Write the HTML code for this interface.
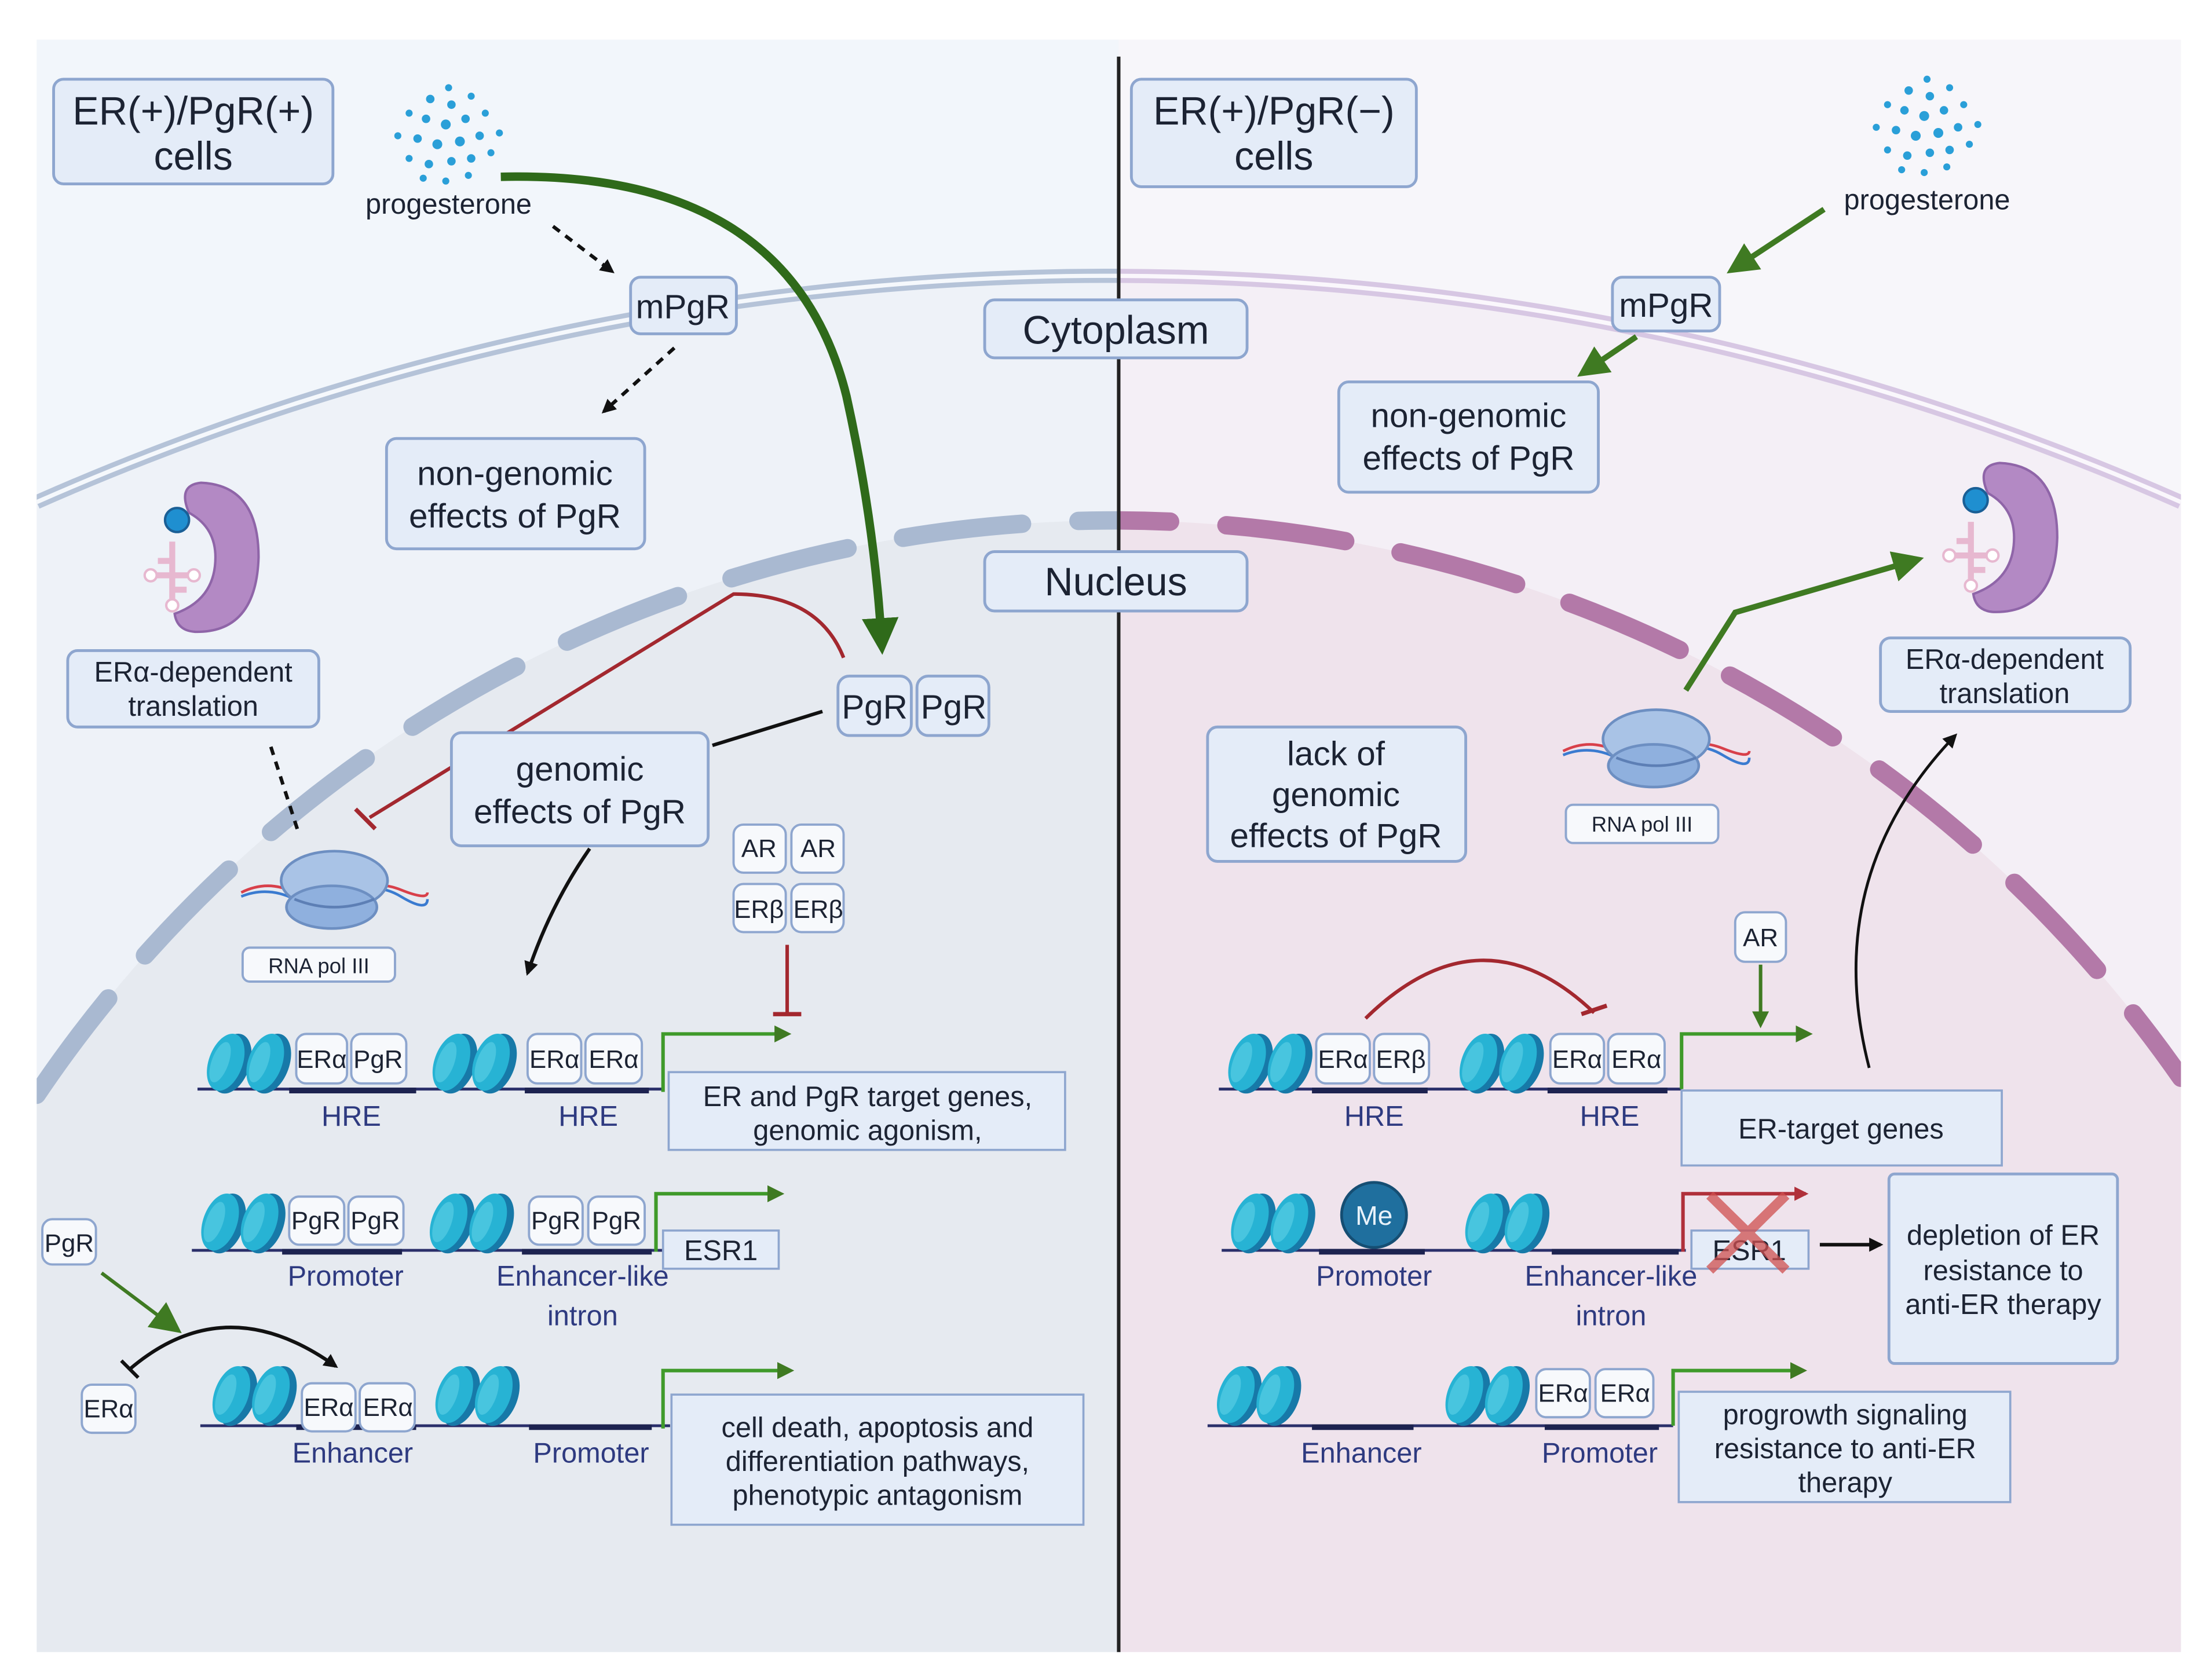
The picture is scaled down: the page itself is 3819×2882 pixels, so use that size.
<!DOCTYPE html>
<html><head><meta charset="utf-8">
<style>
html,body{margin:0;padding:0;background:#fff;width:3819px;height:2882px;overflow:hidden;position:relative;}
svg{display:block;position:absolute;left:0;top:0;}
text{font-family:"Liberation Sans",sans-serif;fill:#1c2333;}
.bx{fill:#e4ecf8;stroke:#8ea6cf;stroke-width:2;}
.gb{fill:#f7f9fc;stroke:#8ea6cf;stroke-width:1.6;}
.lb{fill:#2e3a80;}
</style></head><body>
<svg width="3819" height="2882" viewBox="0 0 1568 1180" preserveAspectRatio="none" xmlns="http://www.w3.org/2000/svg">
<defs>
<clipPath id="L"><rect x="26" y="28" width="767" height="1140"/></clipPath>
<clipPath id="R"><rect x="793" y="28" width="753" height="1140"/></clipPath>
<symbol id="nuc" viewBox="0 0 70 50" overflow="visible">
 <g>
  <ellipse cx="22" cy="25" rx="13" ry="22" fill="#1779a8" transform="rotate(20 22 25)"/>
  <ellipse cx="18" cy="24" rx="12" ry="21" fill="#27b3d4" transform="rotate(20 18 24)"/>
  <ellipse cx="14" cy="24" rx="6" ry="15" fill="#5fd0e6" transform="rotate(20 14 24)" opacity="0.6"/>
  <ellipse cx="50" cy="25" rx="13" ry="22" fill="#1779a8" transform="rotate(20 50 25)"/>
  <ellipse cx="46" cy="24" rx="12" ry="21" fill="#27b3d4" transform="rotate(20 46 24)"/>
  <ellipse cx="42" cy="24" rx="6" ry="15" fill="#5fd0e6" transform="rotate(20 42 24)" opacity="0.6"/>
 </g>
</symbol>
<symbol id="pol" viewBox="0 0 140 70" overflow="visible">
 <path d="M0 35 Q20 25 40 35 T80 35 T120 33 T140 35" stroke="#d8404a" stroke-width="2" fill="none"/>
 <path d="M0 38 Q20 30 40 40 T80 38 T120 38 T140 40" stroke="#3a7bd0" stroke-width="2" fill="none"/>
 <ellipse cx="70" cy="26" rx="40" ry="22" fill="#a9c3e6" stroke="#6d8fc2" stroke-width="2"/>
 <ellipse cx="68" cy="46" rx="34" ry="16" fill="#8fb0de" stroke="#6d8fc2" stroke-width="2"/>
 <path d="M40 40 Q70 52 100 40" stroke="#5d7fb5" stroke-width="2" fill="none"/>
</symbol>
<symbol id="ribo" viewBox="0 0 100 130" overflow="visible">
 <path d="M50 3 Q98 5 98 65 Q96 128 45 127 Q30 126 28 112 Q62 100 62 65 Q62 40 40 28 Q30 5 50 3Z" fill="#b389c4" stroke="#8f65a8" stroke-width="2"/>
 <circle cx="30" cy="34" r="10" fill="#1f8fd0" stroke="#1a5f96" stroke-width="2"/>
 <path d="M26 52 V105 M8 80 H44 M14 68 H26 M26 92 H38" stroke="#e7b8d0" stroke-width="5" fill="none"/>
 <circle cx="8" cy="80" r="5" fill="#fff" stroke="#e7b8d0" stroke-width="2"/>
 <circle cx="44" cy="80" r="5" fill="#fff" stroke="#e7b8d0" stroke-width="2"/>
 <circle cx="26" cy="105" r="5" fill="#fff" stroke="#e7b8d0" stroke-width="2"/>
</symbol>
<marker id="ab" markerWidth="10" markerHeight="10" refX="8" refY="5" orient="auto" markerUnits="userSpaceOnUse" viewBox="0 0 10 10"><path d="M0 0 L10 5 L0 10Z" fill="#111"/></marker>
<marker id="ag" markerWidth="12" markerHeight="12" refX="9" refY="6" orient="auto" markerUnits="userSpaceOnUse" viewBox="0 0 12 12"><path d="M0 0 L12 6 L0 12Z" fill="#3f7a22"/></marker>
<marker id="agb" markerWidth="26" markerHeight="26" refX="18" refY="13" orient="auto" markerUnits="userSpaceOnUse" viewBox="0 0 26 26"><path d="M0 0 L26 13 L0 26Z" fill="#2f6a1a"/></marker>
<marker id="agm" markerWidth="22" markerHeight="22" refX="16" refY="11" orient="auto" markerUnits="userSpaceOnUse" viewBox="0 0 22 22"><path d="M0 0 L22 11 L0 22Z" fill="#3f7a22"/></marker>
<marker id="ar" markerWidth="10" markerHeight="10" refX="8" refY="5" orient="auto" markerUnits="userSpaceOnUse" viewBox="0 0 10 10"><path d="M0 0 L10 5 L0 10Z" fill="#b0303a"/></marker>
</defs>

<rect x="26" y="28" width="767" height="1140" fill="#f2f6fb"/>
<rect x="793" y="28" width="753" height="1140" fill="#f7f6fa"/>
<g clip-path="url(#L)">
 <path d="M26 355 A1885 1885 0 0 1 1546 355 L1546 1168 L26 1168Z" fill="#eef2f8"/>
 <path d="M26 355 A1885 1885 0 0 1 1546 355" fill="none" stroke="#b5c3d8" stroke-width="10"/>
 <path d="M26 355 A1885 1885 0 0 1 1546 355" fill="none" stroke="#f5f8fc" stroke-width="3"/>
 <path d="M26 774 A922 922 0 0 1 1546 762 L1546 1168 L26 1168Z" fill="#e6eaf0"/>
 <path d="M26 774 A922 922 0 0 1 1546 762" fill="none" stroke="#a9b9d1" stroke-width="13" stroke-dasharray="85 40" stroke-linecap="round"/>
</g>
<g clip-path="url(#R)">
 <path d="M26 355 A1885 1885 0 0 1 1546 355 L1546 1168 L26 1168Z" fill="#f4eff6"/>
 <path d="M26 355 A1885 1885 0 0 1 1546 355" fill="none" stroke="#d7c7e3" stroke-width="10"/>
 <path d="M26 355 A1885 1885 0 0 1 1546 355" fill="none" stroke="#faf7fc" stroke-width="3"/>
 <path d="M26 774 A922 922 0 0 1 1546 762 L1546 1168 L26 1168Z" fill="#efe3ec"/>
 <path d="M26 774 A922 922 0 0 1 1546 762" fill="none" stroke="#b379a8" stroke-width="13" stroke-dasharray="85 40" stroke-dashoffset="20" stroke-linecap="round"/>
</g>
<line x1="793" y1="40" x2="793" y2="1168" stroke="#222" stroke-width="2.5"/>

<rect class="bx" x="38" y="56" width="198" height="74" rx="7"/>
<text x="137" y="88" font-size="28" text-anchor="middle">ER(+)/PgR(+)</text>
<text x="137" y="120" font-size="28" text-anchor="middle">cells</text>
<rect class="bx" x="802" y="56" width="202" height="76" rx="7"/>
<text x="903" y="88" font-size="28" text-anchor="middle">ER(+)/PgR(−)</text>
<text x="903" y="120" font-size="28" text-anchor="middle">cells</text>

<g fill="#2a9fd8">
<circle cx="318" cy="62" r="2.5"/><circle cx="305" cy="70" r="3"/><circle cx="320" cy="74" r="3"/><circle cx="334" cy="68" r="2.5"/>
<circle cx="290" cy="80" r="2.5"/><circle cx="302" cy="84" r="3"/><circle cx="316" cy="88" r="3.5"/><circle cx="330" cy="84" r="3"/><circle cx="344" cy="80" r="2.5"/>
<circle cx="282" cy="96" r="2.5"/><circle cx="296" cy="98" r="3"/><circle cx="310" cy="102" r="3.5"/><circle cx="326" cy="100" r="3.5"/><circle cx="340" cy="96" r="3"/><circle cx="354" cy="94" r="2.5"/>
<circle cx="290" cy="112" r="2.5"/><circle cx="304" cy="116" r="3"/><circle cx="320" cy="114" r="3"/><circle cx="334" cy="112" r="3"/><circle cx="348" cy="108" r="2.5"/>
<circle cx="300" cy="126" r="2.5"/><circle cx="316" cy="128" r="2.5"/><circle cx="332" cy="124" r="2.5"/>
</g>
<g fill="#2a9fd8" transform="translate(1048,-6)">
<circle cx="318" cy="62" r="2.5"/><circle cx="305" cy="70" r="3"/><circle cx="320" cy="74" r="3"/><circle cx="334" cy="68" r="2.5"/>
<circle cx="290" cy="80" r="2.5"/><circle cx="302" cy="84" r="3"/><circle cx="316" cy="88" r="3.5"/><circle cx="330" cy="84" r="3"/><circle cx="344" cy="80" r="2.5"/>
<circle cx="282" cy="96" r="2.5"/><circle cx="296" cy="98" r="3"/><circle cx="310" cy="102" r="3.5"/><circle cx="326" cy="100" r="3.5"/><circle cx="340" cy="96" r="3"/><circle cx="354" cy="94" r="2.5"/>
<circle cx="290" cy="112" r="2.5"/><circle cx="304" cy="116" r="3"/><circle cx="320" cy="114" r="3"/><circle cx="334" cy="112" r="3"/><circle cx="348" cy="108" r="2.5"/>
<circle cx="300" cy="126" r="2.5"/><circle cx="316" cy="128" r="2.5"/><circle cx="332" cy="124" r="2.5"/>
</g>
<text x="318" y="151" font-size="20" text-anchor="middle">progesterone</text>
<text x="1366" y="148" font-size="20" text-anchor="middle">progesterone</text>

<line x1="392" y1="160" x2="434" y2="192" stroke="#111" stroke-width="2.5" stroke-dasharray="6 5" marker-end="url(#ab)"/>
<rect class="bx" x="447" y="196" width="75" height="40" rx="7"/>
<text x="484" y="225" font-size="24" text-anchor="middle">mPgR</text>
<line x1="478" y1="246" x2="428" y2="291" stroke="#111" stroke-width="2.5" stroke-dasharray="6 5" marker-end="url(#ab)"/>
<rect class="bx" x="274" y="310" width="183" height="78" rx="7"/>
<text x="365" y="343" font-size="24" text-anchor="middle">non-genomic</text>
<text x="365" y="373" font-size="24" text-anchor="middle">effects of PgR</text>

<path d="M355 125 Q560 120 600 280 Q620 370 625 455" stroke="#2f6a1a" stroke-width="6" fill="none" marker-end="url(#agb)"/>

<rect class="bx" x="698" y="212" width="186" height="41" rx="7"/>
<text x="791" y="243" font-size="28" text-anchor="middle">Cytoplasm</text>
<rect class="bx" x="698" y="390" width="186" height="42" rx="7"/>
<text x="791" y="421" font-size="28" text-anchor="middle">Nucleus</text>

<use href="#ribo" x="100" y="330" width="85" height="128"/>
<rect class="bx" x="48" y="460" width="178" height="54" rx="7"/>
<text x="137" y="482" font-size="20" text-anchor="middle">ERα-dependent</text>
<text x="137" y="506" font-size="20" text-anchor="middle">translation</text>
<line x1="192" y1="528" x2="212" y2="590" stroke="#111" stroke-width="2.5" stroke-dasharray="6 5"/>

<path d="M598 465 Q580 420 520 420 L262 578" stroke="#a3282f" stroke-width="2.5" fill="none"/>
<line x1="252" y1="572" x2="266" y2="586" stroke="#a3282f" stroke-width="3"/>

<use href="#pol" x="168" y="598" width="138" height="66"/>
<rect class="gb" x="172" y="670" width="108" height="24" rx="5"/>
<text x="226" y="688" font-size="15" text-anchor="middle">RNA pol III</text>

<rect class="bx" x="594" y="478" width="52" height="42" rx="8"/>
<rect class="bx" x="650" y="478" width="51" height="42" rx="8"/>
<text x="620" y="508" font-size="24" text-anchor="middle">PgR</text>
<text x="676" y="508" font-size="24" text-anchor="middle">PgR</text>
<line x1="583" y1="503" x2="505" y2="527" stroke="#111" stroke-width="2.5"/>
<rect class="bx" x="320" y="518" width="182" height="80" rx="7"/>
<text x="411" y="552" font-size="24" text-anchor="middle">genomic</text>
<text x="411" y="582" font-size="24" text-anchor="middle">effects of PgR</text>
<path d="M418 600 Q390 640 374 688" stroke="#111" stroke-width="2.5" fill="none" marker-end="url(#ab)"/>

<rect class="gb" x="520" y="583" width="37" height="34" rx="7"/><rect class="gb" x="561" y="583" width="37" height="34" rx="7"/>
<rect class="gb" x="520" y="625" width="37" height="34" rx="7"/><rect class="gb" x="561" y="625" width="37" height="34" rx="7"/>
<text x="538" y="606" font-size="18" text-anchor="middle">AR</text><text x="580" y="606" font-size="18" text-anchor="middle">AR</text>
<text x="538" y="649" font-size="18" text-anchor="middle">ERβ</text><text x="580" y="649" font-size="18" text-anchor="middle">ERβ</text>
<line x1="558" y1="668" x2="558" y2="716" stroke="#a3282f" stroke-width="2.5"/>
<line x1="548" y1="717" x2="568" y2="717" stroke="#a3282f" stroke-width="3"/>

<line x1="140" y1="770" x2="470" y2="770" stroke="#2a2f6a" stroke-width="2"/>
<line x1="205" y1="771" x2="295" y2="771" stroke="#1d2350" stroke-width="4"/>
<line x1="372" y1="771" x2="460" y2="771" stroke="#1d2350" stroke-width="4"/>
<use href="#nuc" x="142" y="727" width="70" height="50"/>
<use href="#nuc" x="302" y="727" width="70" height="50"/>
<rect class="gb" x="210" y="731" width="36" height="35" rx="7"/><rect class="gb" x="249" y="731" width="39" height="35" rx="7"/>
<rect class="gb" x="374" y="731" width="38" height="35" rx="7"/><rect class="gb" x="415" y="731" width="40" height="35" rx="7"/>
<text x="228" y="755" font-size="18" text-anchor="middle">ERα</text><text x="268" y="755" font-size="18" text-anchor="middle">PgR</text>
<text x="393" y="755" font-size="18" text-anchor="middle">ERα</text><text x="435" y="755" font-size="18" text-anchor="middle">ERα</text>
<text x="249" y="796" font-size="20" text-anchor="middle" class="lb">HRE</text>
<text x="417" y="796" font-size="20" text-anchor="middle" class="lb">HRE</text>
<path d="M470 772 V731 H558" stroke="#3f9a2a" stroke-width="2.5" fill="none" marker-end="url(#ag)"/>
<rect x="474" y="758" width="281" height="55" fill="#e4ecf8" stroke="#8ea6cf" stroke-width="1.5"/>
<text x="615" y="782" font-size="20" text-anchor="middle">ER and PgR target genes,</text>
<text x="615" y="806" font-size="20" text-anchor="middle">genomic agonism,</text>

<line x1="136" y1="884" x2="470" y2="884" stroke="#2a2f6a" stroke-width="2"/>
<line x1="200" y1="885" x2="285" y2="885" stroke="#1d2350" stroke-width="4"/>
<line x1="370" y1="885" x2="462" y2="885" stroke="#1d2350" stroke-width="4"/>
<use href="#nuc" x="138" y="840" width="70" height="50"/>
<use href="#nuc" x="300" y="840" width="70" height="50"/>
<rect class="gb" x="205" y="846" width="39" height="34" rx="7"/><rect class="gb" x="247" y="846" width="39" height="34" rx="7"/>
<rect class="gb" x="375" y="846" width="38" height="34" rx="7"/><rect class="gb" x="417" y="846" width="40" height="34" rx="7"/>
<text x="224" y="869" font-size="18" text-anchor="middle">PgR</text><text x="266" y="869" font-size="18" text-anchor="middle">PgR</text>
<text x="394" y="869" font-size="18" text-anchor="middle">PgR</text><text x="437" y="869" font-size="18" text-anchor="middle">PgR</text>
<text x="245" y="909" font-size="20" text-anchor="middle" class="lb">Promoter</text>
<text x="413" y="909" font-size="20" text-anchor="middle" class="lb">Enhancer-like</text>
<text x="413" y="937" font-size="20" text-anchor="middle" class="lb">intron</text>
<path d="M465 885 V844 H553" stroke="#3f9a2a" stroke-width="2.5" fill="none" marker-end="url(#ag)"/>
<rect x="470" y="870" width="82" height="27" fill="#e4ecf8" stroke="#8ea6cf" stroke-width="1.5"/>
<text x="511" y="891" font-size="20" text-anchor="middle">ESR1</text>

<rect class="gb" x="30" y="862" width="38" height="32" rx="7"/>
<text x="49" y="885" font-size="18" text-anchor="middle">PgR</text>
<line x1="72" y1="900" x2="124" y2="939" stroke="#3f7a22" stroke-width="2.5" marker-end="url(#agm)"/>
<rect class="gb" x="58" y="979" width="38" height="34" rx="7"/>
<text x="77" y="1002" font-size="18" text-anchor="middle">ERα</text>
<path d="M92 968 Q160 910 238 966" stroke="#111" stroke-width="2.5" fill="none" marker-end="url(#ab)"/>
<line x1="86" y1="962" x2="98" y2="974" stroke="#111" stroke-width="2.5"/>

<line x1="142" y1="1008" x2="475" y2="1008" stroke="#2a2f6a" stroke-width="2"/>
<line x1="210" y1="1009" x2="295" y2="1009" stroke="#1d2350" stroke-width="4"/>
<line x1="375" y1="1009" x2="462" y2="1009" stroke="#1d2350" stroke-width="4"/>
<use href="#nuc" x="146" y="962" width="70" height="50"/>
<use href="#nuc" x="304" y="962" width="70" height="50"/>
<rect class="gb" x="214" y="978" width="38" height="34" rx="7"/><rect class="gb" x="255" y="978" width="39" height="34" rx="7"/>
<text x="233" y="1001" font-size="18" text-anchor="middle">ERα</text><text x="275" y="1001" font-size="18" text-anchor="middle">ERα</text>
<text x="250" y="1034" font-size="20" text-anchor="middle" class="lb">Enhancer</text>
<text x="419" y="1034" font-size="20" text-anchor="middle" class="lb">Promoter</text>
<path d="M470 1010 V969 H560" stroke="#3f9a2a" stroke-width="2.5" fill="none" marker-end="url(#ag)"/>
<rect x="476" y="986" width="292" height="92" fill="#e4ecf8" stroke="#8ea6cf" stroke-width="1.5"/>
<text x="622" y="1016" font-size="20" text-anchor="middle">cell death, apoptosis and</text>
<text x="622" y="1040" font-size="20" text-anchor="middle">differentiation  pathways,</text>
<text x="622" y="1064" font-size="20" text-anchor="middle">phenotypic antagonism</text>

<line x1="1293" y1="148" x2="1229" y2="190" stroke="#3f7a22" stroke-width="4" marker-end="url(#agm)"/>
<rect class="bx" x="1143" y="196" width="76" height="38" rx="7"/>
<text x="1181" y="224" font-size="24" text-anchor="middle">mPgR</text>
<line x1="1160" y1="238" x2="1123" y2="263" stroke="#3f7a22" stroke-width="4" marker-end="url(#agm)"/>
<rect class="bx" x="949" y="270" width="184" height="78" rx="7"/>
<text x="1041" y="302" font-size="24" text-anchor="middle">non-genomic</text>
<text x="1041" y="332" font-size="24" text-anchor="middle">effects of PgR</text>

<use href="#ribo" x="1375" y="316" width="85" height="128"/>
<rect class="bx" x="1333" y="451" width="177" height="52" rx="7"/>
<text x="1421" y="473" font-size="20" text-anchor="middle">ERα-dependent</text>
<text x="1421" y="497" font-size="20" text-anchor="middle">translation</text>

<rect class="bx" x="856" y="514" width="183" height="95" rx="7"/>
<text x="947" y="541" font-size="24" text-anchor="middle">lack of</text>
<text x="947" y="570" font-size="24" text-anchor="middle">genomic</text>
<text x="947" y="599" font-size="24" text-anchor="middle">effects of PgR</text>

<use href="#pol" x="1105" y="498" width="138" height="66"/>
<rect class="gb" x="1110" y="569" width="108" height="27" rx="5"/>
<text x="1164" y="588" font-size="15" text-anchor="middle">RNA pol III</text>
<path d="M1195 488 L1230 433 L1358 396" stroke="#3f7a22" stroke-width="4" fill="none" marker-end="url(#agm)"/>
<path d="M1325 755 Q1290 620 1386 520" stroke="#111" stroke-width="2" fill="none" marker-end="url(#ab)"/>

<rect class="gb" x="1230" y="645" width="36" height="35" rx="7"/>
<text x="1248" y="669" font-size="18" text-anchor="middle">AR</text>
<line x1="1248" y1="682" x2="1248" y2="724" stroke="#3f7a22" stroke-width="2.5" marker-end="url(#ag)"/>

<path d="M968 720 Q1050 640 1130 716" stroke="#a3282f" stroke-width="2.5" fill="none"/>
<line x1="1121" y1="717" x2="1139" y2="711" stroke="#a3282f" stroke-width="3"/>

<line x1="864" y1="770" x2="1192" y2="770" stroke="#2a2f6a" stroke-width="2"/>
<line x1="930" y1="771" x2="1012" y2="771" stroke="#1d2350" stroke-width="4"/>
<line x1="1097" y1="771" x2="1182" y2="771" stroke="#1d2350" stroke-width="4"/>
<use href="#nuc" x="866" y="727" width="70" height="50"/>
<use href="#nuc" x="1030" y="727" width="70" height="50"/>
<rect class="gb" x="933" y="731" width="38" height="35" rx="7"/><rect class="gb" x="974" y="731" width="39" height="35" rx="7"/>
<rect class="gb" x="1099" y="731" width="38" height="35" rx="7"/><rect class="gb" x="1140" y="731" width="40" height="35" rx="7"/>
<text x="952" y="755" font-size="18" text-anchor="middle">ERα</text><text x="993" y="755" font-size="18" text-anchor="middle">ERβ</text>
<text x="1118" y="755" font-size="18" text-anchor="middle">ERα</text><text x="1160" y="755" font-size="18" text-anchor="middle">ERα</text>
<text x="974" y="796" font-size="20" text-anchor="middle" class="lb">HRE</text>
<text x="1141" y="796" font-size="20" text-anchor="middle" class="lb">HRE</text>
<path d="M1192 770 V731 H1282" stroke="#3f9a2a" stroke-width="2.5" fill="none" marker-end="url(#ag)"/>
<rect x="1192" y="771" width="227" height="53" fill="#e4ecf8" stroke="#8ea6cf" stroke-width="1.5"/>
<text x="1305" y="805" font-size="20" text-anchor="middle">ER-target genes</text>

<line x1="866" y1="884" x2="1195" y2="884" stroke="#2a2f6a" stroke-width="2"/>
<line x1="935" y1="885" x2="1010" y2="885" stroke="#1d2350" stroke-width="4"/>
<line x1="1100" y1="885" x2="1190" y2="885" stroke="#1d2350" stroke-width="4"/>
<use href="#nuc" x="868" y="840" width="70" height="50"/>
<use href="#nuc" x="1034" y="840" width="70" height="50"/>
<circle cx="974" cy="859" r="23" fill="#1f6f9e" stroke="#154e73" stroke-width="2"/>
<text x="974" y="866" font-size="19" text-anchor="middle" style="fill:#e8f2fa">Me</text>
<text x="974" y="909" font-size="20" text-anchor="middle" class="lb">Promoter</text>
<text x="1142" y="909" font-size="20" text-anchor="middle" class="lb">Enhancer-like</text>
<text x="1142" y="937" font-size="20" text-anchor="middle" class="lb">intron</text>
<path d="M1193 885 V844 H1280" stroke="#b0303a" stroke-width="2.5" fill="none" marker-end="url(#ar)"/>
<rect x="1199" y="870" width="83" height="27" fill="#e4ecf8" stroke="#8ea6cf" stroke-width="1.5"/>
<text x="1240" y="891" font-size="20" text-anchor="middle">ESR1</text>
<path d="M1212 845 L1266 898 M1266 845 L1212 898" stroke="#d0504f" stroke-width="7" opacity="0.75"/>
<line x1="1290" y1="880" x2="1333" y2="880" stroke="#111" stroke-width="2.5" marker-end="url(#ab)"/>
<rect x="1339" y="830" width="162" height="134" rx="4" fill="#e4ecf8" stroke="#8ea6cf" stroke-width="2"/>
<text x="1420" y="880" font-size="20" text-anchor="middle">depletion of ER</text>
<text x="1420" y="905" font-size="20" text-anchor="middle">resistance to</text>
<text x="1420" y="929" font-size="20" text-anchor="middle">anti-ER therapy</text>

<line x1="856" y1="1008" x2="1186" y2="1008" stroke="#2a2f6a" stroke-width="2"/>
<line x1="930" y1="1009" x2="1002" y2="1009" stroke="#1d2350" stroke-width="4"/>
<line x1="1095" y1="1009" x2="1176" y2="1009" stroke="#1d2350" stroke-width="4"/>
<use href="#nuc" x="858" y="962" width="70" height="50"/>
<use href="#nuc" x="1020" y="962" width="70" height="50"/>
<rect class="gb" x="1089" y="968" width="38" height="34" rx="7"/><rect class="gb" x="1131" y="968" width="41" height="34" rx="7"/>
<text x="1108" y="991" font-size="18" text-anchor="middle">ERα</text><text x="1152" y="991" font-size="18" text-anchor="middle">ERα</text>
<text x="965" y="1034" font-size="20" text-anchor="middle" class="lb">Enhancer</text>
<text x="1134" y="1034" font-size="20" text-anchor="middle" class="lb">Promoter</text>
<path d="M1186 1008 V969 H1278" stroke="#3f9a2a" stroke-width="2.5" fill="none" marker-end="url(#ag)"/>
<rect x="1190" y="984" width="235" height="78" fill="#e4ecf8" stroke="#8ea6cf" stroke-width="1.5"/>
<text x="1308" y="1007" font-size="20" text-anchor="middle">progrowth signaling</text>
<text x="1308" y="1031" font-size="20" text-anchor="middle">resistance to anti-ER</text>
<text x="1308" y="1055" font-size="20" text-anchor="middle">therapy</text>
</svg>
</body></html>
